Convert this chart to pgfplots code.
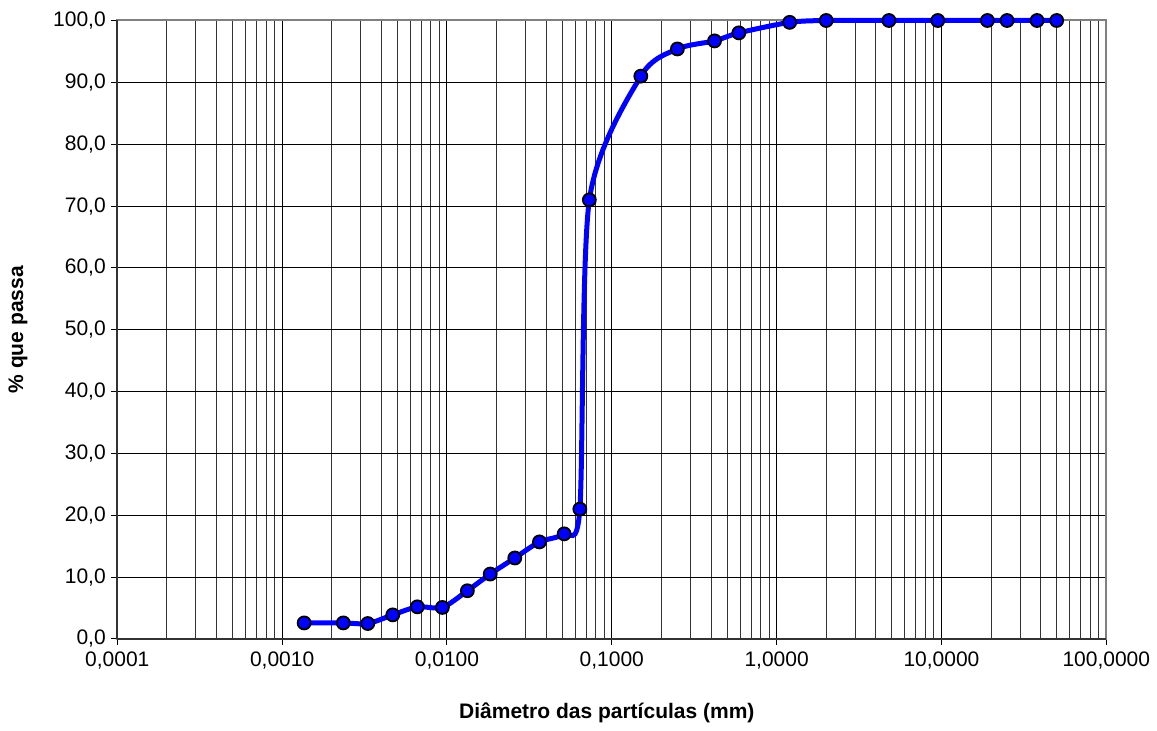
\documentclass[border=0pt]{standalone}
\usepackage{pgfplots}
\pgfplotsset{compat=1.18}
\usepackage{fontspec}
\setmainfont{Liberation Sans}

% Curva granulométrica: diâmetro (mm) x porcentagem que passa
\pgfplotstableread{
d       p
0.00136 2.6
0.00235 2.6
0.00331 2.5
0.00469 3.9
0.00661 5.2
0.00938 5.1
0.0133  7.8
0.0183  10.5
0.0258  13.1
0.0364  15.7
0.0514  17.0
0.0640  21.0
0.0731  71.0
0.150   91.0
0.250   95.4
0.420   96.7
0.590   98.0
1.20    99.7
2.00    100.0
4.80    100.0
9.50    100.0
19.0    100.0
25.0    100.0
38.0    100.0
50.0    100.0
}\granulometria

\definecolor{framegray}{RGB}{128,128,128}
\definecolor{curveblue}{RGB}{0,0,255}

\begin{document}
\begin{tikzpicture}
\path[use as bounding box] (-117.3pt,-92pt) rectangle (1039.7pt,639pt);
\begin{axis}[
  at={(0pt,0pt)}, anchor=south west,
  scale only axis,
  width=989pt, height=618.5pt,
  xmode=log, log basis x=10,
  xmin=1e-4, xmax=100,
  ymin=0, ymax=100,
  xtick={1e-4,1e-3,1e-2,1e-1,1,10,100},
  minor xtick={2e-4,3e-4,4e-4,5e-4,6e-4,7e-4,8e-4,9e-4,
               2e-3,3e-3,4e-3,5e-3,6e-3,7e-3,8e-3,9e-3,
               2e-2,3e-2,4e-2,5e-2,6e-2,7e-2,8e-2,9e-2,
               0.2,0.3,0.4,0.5,0.6,0.7,0.8,0.9,
               2,3,4,5,6,7,8,9,
               20,30,40,50,60,70,80,90},
  xticklabels={{0,0001},{0,0010},{0,0100},{0,1000},{1,0000},{10,0000},{100,0000}},
  ytick={0,10,...,100},
  yticklabels={{0,0},{10,0},{20,0},{30,0},{40,0},{50,0},{60,0},{70,0},{80,0},{90,0},{100,0}},
  tick label style={font=\fontsize{21}{23}\selectfont},
  xticklabel style={yshift=-3pt},
  yticklabel style={xshift=-2pt},
  xmajorgrids, xminorgrids, ymajorgrids,
  major grid style={black, line width=1pt},
  minor grid style={black!80, line width=1pt},
  tick align=outside,
  xtick pos=left, ytick pos=left,
  major tick length=6pt, minor tick length=0pt,
  tick style={black, line width=1pt},
  axis line style={framegray, line width=2pt},
  xlabel={\bfseries Diâmetro das partículas (mm)},
  ylabel={\bfseries \% que passa},
  label style={font=\fontsize{21}{23}\selectfont},
  xlabel style={at={(axis description cs:0.495,-0.1196)}, anchor=center},
  ylabel style={at={(axis description cs:-0.1004,0.5)}, anchor=center, rotate=0},
  clip=false,
]
\draw[black!80, line width=2pt] (rel axis cs:0,0) -- (rel axis cs:0,1);
\draw[black!80, line width=2pt] (rel axis cs:0,0) -- (rel axis cs:1,0);
\addplot[curveblue, line width=5pt, smooth, tension=0.45,
  mark=*, mark size=6.5pt,
  mark options={fill=curveblue, draw=black, line width=1.8pt}]
  table[x=d, y=p] {\granulometria};
\end{axis}
\end{tikzpicture}
\end{document}
